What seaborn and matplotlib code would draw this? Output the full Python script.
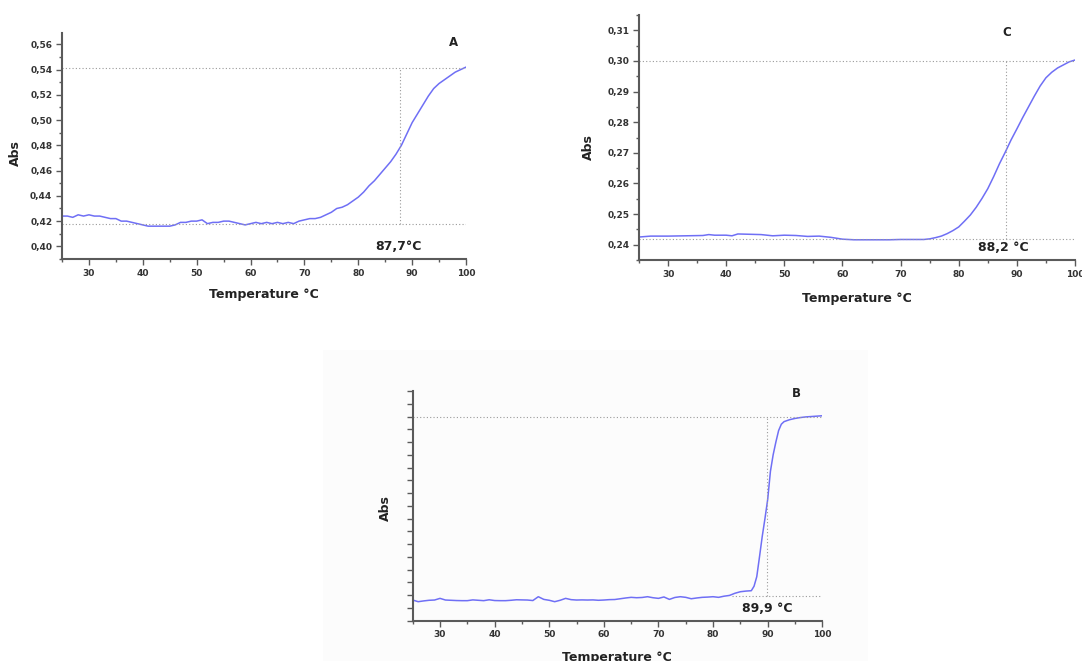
import matplotlib
matplotlib.use("Agg")
import matplotlib.pyplot as plt
from matplotlib.ticker import MultipleLocator, FuncFormatter, NullFormatter
from matplotlib.patches import Rectangle
import numpy as np
import pandas as pd
import seaborn as sns

# ---------------- data ----------------
temp_a = [25, 26, 27, 28, 29, 30, 31, 32, 33, 34, 35, 36, 37, 38, 39, 40, 41, 42, 43, 44,
          45, 46, 47, 48, 49, 50, 51, 52, 53, 54, 55, 56, 57, 58, 59, 60, 61, 62, 63, 64,
          65, 66, 67, 68, 69, 70, 71, 72, 73, 74, 75, 76, 77, 78, 79, 80, 81, 82, 83, 84,
          85, 86, 87, 88, 89, 90, 91, 92, 93, 94, 95, 96, 97, 98, 99, 100]
abs_a = [0.424, 0.424, 0.423, 0.425, 0.424, 0.425, 0.424, 0.424, 0.423, 0.422, 0.422, 0.420,
         0.420, 0.419, 0.418, 0.417, 0.416, 0.416, 0.416, 0.416, 0.416, 0.417, 0.419, 0.419,
         0.420, 0.420, 0.421, 0.418, 0.419, 0.419, 0.420, 0.420, 0.419, 0.418, 0.417, 0.418,
         0.419, 0.418, 0.419, 0.418, 0.419, 0.418, 0.419, 0.418, 0.420, 0.421, 0.422, 0.422,
         0.423, 0.425, 0.427, 0.430, 0.431, 0.433, 0.436, 0.439, 0.443, 0.448, 0.452, 0.457,
         0.462, 0.467, 0.473, 0.480, 0.489, 0.498, 0.505, 0.512, 0.519, 0.525, 0.529, 0.532,
         0.535, 0.538, 0.540, 0.542]

temp_c = [25, 27, 30, 33, 36, 37, 38, 40, 41, 42, 44, 46, 48, 50, 52, 54, 56, 58, 60, 62,
          65, 68, 70, 72, 74, 75, 76, 77, 78, 79, 80, 81, 82, 83, 84, 85, 86, 87, 88, 89,
          90, 91, 92, 93, 94, 95, 96, 97, 98, 99, 100]
abs_c = [0.2425, 0.2428, 0.2428, 0.2429, 0.2430, 0.2433, 0.2431, 0.2431, 0.2429, 0.2435,
         0.2434, 0.2433, 0.2429, 0.2431, 0.2430, 0.2427, 0.2428, 0.2424, 0.2418, 0.2416,
         0.2416, 0.2416, 0.2417, 0.2417, 0.2417, 0.2419, 0.2423, 0.2428, 0.2436, 0.2446,
         0.2458, 0.2477, 0.2497, 0.2522, 0.2551, 0.2583, 0.2622, 0.2664, 0.2702, 0.2742,
         0.2778, 0.2815, 0.2850, 0.2885, 0.2918, 0.2945, 0.2963, 0.2977, 0.2987, 0.2997,
         0.3003]

temp_b = [25, 26, 27, 28, 29, 30, 31, 32, 33, 34, 35, 36, 37, 38, 39, 40, 41, 42, 43, 44,
          45, 46, 47, 48, 49, 50, 51, 52, 53, 54, 55, 56, 57, 58, 59, 60, 61, 62, 63, 64,
          65, 66, 67, 68, 69, 70, 71, 72, 73, 74, 75, 76, 77, 78, 79, 80, 81, 82, 83, 84,
          85, 86, 87, 87.5, 88, 88.5, 89, 89.5, 90, 90.5, 91, 91.5, 92, 92.5, 93, 94, 95,
          96, 97, 98, 99, 100]
abs_b = [0.162, 0.149, 0.155, 0.160, 0.162, 0.175, 0.162, 0.160, 0.158, 0.157, 0.157, 0.163,
         0.160, 0.157, 0.164, 0.158, 0.157, 0.157, 0.160, 0.164, 0.163, 0.162, 0.158, 0.188,
         0.167, 0.160, 0.149, 0.160, 0.175, 0.165, 0.162, 0.163, 0.162, 0.163, 0.160, 0.162,
         0.165, 0.166, 0.172, 0.178, 0.183, 0.180, 0.182, 0.188, 0.180, 0.175, 0.186, 0.167,
         0.182, 0.188, 0.183, 0.172, 0.178, 0.183, 0.185, 0.188, 0.183, 0.192, 0.198, 0.215,
         0.227, 0.232, 0.235, 0.270, 0.345, 0.500, 0.660, 0.800, 0.950, 1.170, 1.300, 1.400,
         1.490, 1.540, 1.560, 1.575, 1.585, 1.592, 1.597, 1.600, 1.603, 1.606]

panel_labels = ["A", "C", "B"]
tm_labels = ["87,7°C", "88,2 °C", "89,9 °C"]
tm_values = [87.7, 88.2, 89.9]
upper_levels = [0.541, 0.300, 1.593]
lower_levels = [0.418, 0.2418, 0.193]
lower_start = [25, 25, 83.5]
xlabel = "Temperature °C"
ylabel = "Abs"

# ---------------- style ----------------
sns.set_style("ticks")
plt.rcParams["font.family"] = ["DejaVu Sans"]
plt.rcParams["font.weight"] = "bold"

line_color = "#6f6ff5"
axis_color = "#5a5a5a"
dot_color = "#9a9a9a"

fig = plt.figure(figsize=(10.82, 6.61), dpi=100)

# faint background box behind panel B
fig.patches.append(Rectangle((323 / 1082, 0), (868 - 323) / 1082, 1 - 350 / 661,
                             transform=fig.transFigure, facecolor="#fcfcfc",
                             edgecolor="none", zorder=-5))

axA = fig.add_axes([62 / 1082, 1 - 259 / 661, (466 - 62) / 1082, (259 - 33) / 661])
axC = fig.add_axes([639 / 1082, 1 - 260 / 661, (1075 - 639) / 1082, (260 - 15) / 661])
axB = fig.add_axes([412.7 / 1082, 1 - 620.7 / 661, (822.3 - 412.7) / 1082, (620.7 - 391) / 661])
axes = [axA, axC, axB]

datasets = [
    pd.DataFrame({"T": temp_a, "Abs": abs_a}),
    pd.DataFrame({"T": temp_c, "Abs": abs_c}),
    pd.DataFrame({"T": temp_b, "Abs": abs_b}),
]
ylims = [(0.39, 0.569), (0.235, 0.315), (0.0, 1.8)]
ymajor = [0.02, 0.01, 0.1]
yminor = [0.01, 0.005, None]
show_ylabels = [True, True, False]

xlabel_coords = [(0.5, -0.128), (0.499, -0.131), (0.498, -0.132)]
ylabel_coords = [(-0.099, 0.469), (-0.101, 0.462), (-0.05, 0.49)]
letter_pos = [(0.968, 0.956), (0.844, 0.927), (0.936, 0.991)]
tm_pos = [(0.834, 0.0575), (0.835, 0.049), (0.865, 0.051)]

comma_fmt = FuncFormatter(lambda v, p: f"{v:.2f}".replace(".", ","))

for i, ax in enumerate(axes):
    ax.set_zorder(2)
    ax.set_facecolor("none")
    df = datasets[i]
    sns.lineplot(data=df, x="T", y="Abs", ax=ax, color=line_color, linewidth=1.1,
                 estimator=None, sort=True)
    ax.set_xlim(25, 100)
    ax.set_ylim(*ylims[i])

    # dotted guide lines
    ax.plot([25, 100], [upper_levels[i]] * 2, linestyle=(0, (1, 2)), color=dot_color, lw=0.8)
    ax.plot([lower_start[i], 100], [lower_levels[i]] * 2, linestyle=(0, (1, 2)),
            color=dot_color, lw=0.8)
    ax.plot([tm_values[i]] * 2, [lower_levels[i], upper_levels[i]], linestyle=(0, (1, 2)),
            color=dot_color, lw=0.8)

    sns.despine(ax=ax)
    for side in ["left", "bottom"]:
        ax.spines[side].set_color(axis_color)
        ax.spines[side].set_linewidth(1.5)

    ax.xaxis.set_major_locator(MultipleLocator(10))
    ax.xaxis.set_minor_locator(MultipleLocator(5))
    ax.yaxis.set_major_locator(MultipleLocator(ymajor[i]))
    if yminor[i] is not None:
        ax.yaxis.set_minor_locator(MultipleLocator(yminor[i]))
    ax.set_xticks([30, 40, 50, 60, 70, 80, 90, 100])
    if show_ylabels[i]:
        ax.yaxis.set_major_formatter(comma_fmt)
    else:
        ax.yaxis.set_major_formatter(NullFormatter())
    ax.tick_params(axis="both", which="major", direction="out", length=4, width=1,
                   color=axis_color, labelsize=6.5, pad=3, labelcolor="#333333")
    ax.tick_params(axis="both", which="minor", direction="out", length=2.5, width=1,
                   color=axis_color)
    for lab in ax.get_xticklabels() + ax.get_yticklabels():
        lab.set_fontweight("bold")

    ax.set_xlabel(xlabel, fontsize=9, fontweight="bold", color="#222222")
    ax.set_ylabel(ylabel, fontsize=9, fontweight="bold", color="#222222")
    ax.xaxis.set_label_coords(*xlabel_coords[i])
    ax.yaxis.set_label_coords(*ylabel_coords[i])

    ax.text(*letter_pos[i], panel_labels[i], transform=ax.transAxes, ha="center",
            va="center", fontsize=8.5, fontweight="bold", color="#222222")
    ax.text(*tm_pos[i], tm_labels[i], transform=ax.transAxes, ha="center", va="center",
            fontsize=9, fontweight="bold", color="#222222")

fig.savefig("out.png", dpi=100)
